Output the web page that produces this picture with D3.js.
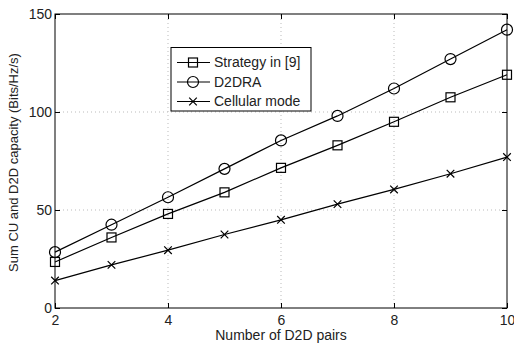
<!DOCTYPE html>
<html>
<head>
<meta charset="utf-8">
<script src="https://cdn.jsdelivr.net/npm/d3@7"></script>
<style>
  body { margin: 0; background: #fff; }
  svg { font-family: "Liberation Sans", Arial, sans-serif; }
</style>
</head>
<body>
<script>
const pairs = [2, 3, 4, 5, 6, 7, 8, 9, 10];
const strategy9 = [23.5, 36, 48, 59, 71.5, 83, 95, 107.5, 119];
const d2dra = [28.5, 42.5, 56.5, 71, 85.5, 98, 112, 127, 142];
const cellular = [14, 22, 29.5, 37.5, 45, 53, 60.5, 68.5, 77];
const xTicks = [2, 4, 6, 8, 10];
const yTicks = [0, 50, 100, 150];

const series = [
  { name: "Strategy in [9]", values: strategy9, marker: "square" },
  { name: "D2DRA", values: d2dra, marker: "circle" },
  { name: "Cellular mode", values: cellular, marker: "cross" }
];

const W = 514, H = 344;
const m = { left: 55, top: 14, right: 7, bottom: 36 };

const svg = d3.select("body").append("svg").attr("width", W).attr("height", H);

const x = d3.scaleLinear().domain([2, 10]).range([m.left, W - m.right]);
const y = d3.scaleLinear().domain([0, 150]).range([H - m.bottom, m.top]);

// grid
const grid = svg.append("g").attr("stroke", "#bbb").attr("stroke-dasharray", "1,3").attr("stroke-width", 1);
grid.selectAll(".gx").data(xTicks.slice(1, -1)).join("line")
  .attr("x1", (d) => x(d)).attr("x2", (d) => x(d))
  .attr("y1", y(0)).attr("y2", y(150));
grid.selectAll(".gy").data(yTicks.slice(1, -1)).join("line")
  .attr("y1", (d) => y(d)).attr("y2", (d) => y(d))
  .attr("x1", x(2)).attr("x2", x(10));

// axes (inward ticks, matlab style)
const tick = 5;
svg.append("g").attr("transform", `translate(0,${y(0)})`)
  .call(d3.axisBottom(x).tickValues(xTicks).tickSizeInner(-tick).tickSizeOuter(0).tickPadding(7))
  .call((g) => g.select(".domain").remove());
svg.append("g").attr("transform", `translate(0,${y(150)})`)
  .call(d3.axisTop(x).tickValues(xTicks).tickSizeInner(-tick).tickSizeOuter(0).tickFormat(""))
  .call((g) => g.select(".domain").remove());
svg.append("g").attr("transform", `translate(${x(2)},0)`)
  .call(d3.axisLeft(y).tickValues(yTicks).tickSizeInner(-tick).tickSizeOuter(0).tickPadding(3))
  .call((g) => g.select(".domain").remove());
svg.append("g").attr("transform", `translate(${x(10)},0)`)
  .call(d3.axisRight(y).tickValues(yTicks).tickSizeInner(-tick).tickSizeOuter(0).tickFormat(""))
  .call((g) => g.select(".domain").remove());

svg.selectAll(".tick text").attr("font-size", 14).attr("fill", "#222")
  .attr("font-family", "Liberation Sans, Arial, sans-serif");
svg.selectAll(".tick line").attr("stroke", "#000");

svg.append("rect")
  .attr("x", x(2)).attr("y", y(150))
  .attr("width", x(10) - x(2)).attr("height", y(0) - y(150))
  .attr("fill", "none").attr("stroke", "#000").attr("stroke-width", 1);

const drawMarker = (g, type, cx, cy) => {
  if (type === "square") {
    g.append("rect").attr("x", cx - 4.5).attr("y", cy - 4.5).attr("width", 9).attr("height", 9)
      .attr("fill", "none").attr("stroke", "#000").attr("stroke-width", 1.2);
  } else if (type === "circle") {
    g.append("circle").attr("cx", cx).attr("cy", cy).attr("r", 5.5)
      .attr("fill", "none").attr("stroke", "#000").attr("stroke-width", 1.2);
  } else {
    const s = 3.8;
    g.append("path").attr("d", `M${cx - s},${cy - s}L${cx + s},${cy + s}M${cx - s},${cy + s}L${cx + s},${cy - s}`)
      .attr("stroke", "#000").attr("stroke-width", 1.2);
  }
};

const line = d3.line().x((d, i) => x(pairs[i])).y((d) => y(d));
series.forEach((s) => {
  const g = svg.append("g");
  g.append("path").attr("d", line(s.values)).attr("fill", "none").attr("stroke", "#000").attr("stroke-width", 1.2);
  s.values.forEach((v, i) => drawMarker(g, s.marker, x(pairs[i]), y(v)));
});

// legend
const lg = svg.append("g").attr("transform", "translate(171,47.5)");
lg.append("rect").attr("width", 140).attr("height", 63.5).attr("fill", "#fff").attr("stroke", "#000").attr("stroke-width", 1);
series.forEach((s, i) => {
  const ly = 15 + i * 19.5;
  lg.append("line").attr("x1", 6).attr("x2", 39).attr("y1", ly).attr("y2", ly).attr("stroke", "#000").attr("stroke-width", 1.2);
  drawMarker(lg, s.marker, 22, ly);
  lg.append("text").attr("x", 43).attr("y", ly).attr("dy", "0.35em").attr("font-size", 14).attr("fill", "#222").text(s.name);
});

// axis labels
svg.append("text").attr("x", (x(2) + x(10)) / 2).attr("y", 340).attr("text-anchor", "middle")
  .attr("font-size", 14).attr("fill", "#222").text("Number of D2D pairs");
svg.append("text").attr("transform", `translate(18,162.5) rotate(-90)`)
  .attr("text-anchor", "middle").attr("font-size", 13).attr("fill", "#222")
  .text("Sum CU and D2D capacity (Bits/Hz/s)");
</script>
</body>
</html>
